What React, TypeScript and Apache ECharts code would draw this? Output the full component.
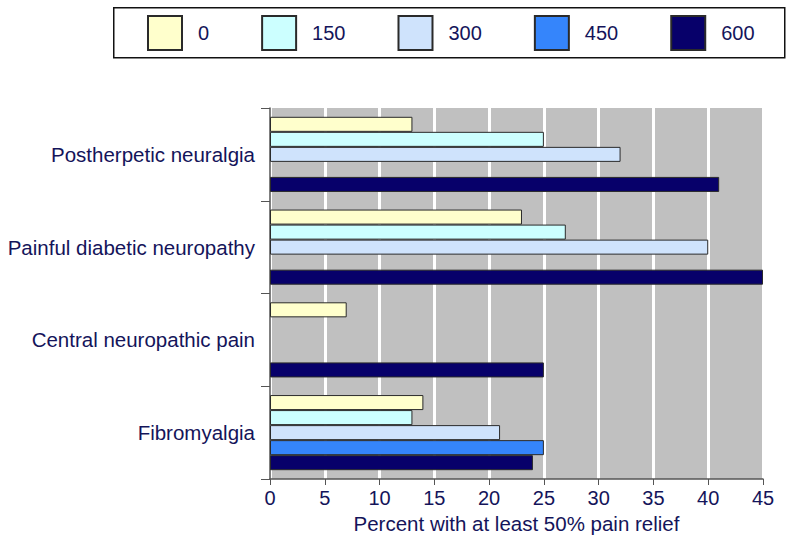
import React, { useEffect, useRef } from "react";
import * as echarts from "echarts";

const categories = [
  "Postherpetic neuralgia",
  "Painful diabetic neuropathy",
  "Central neuropathic pain",
  "Fibromyalgia",
];
const seriesNames = ["0", "150", "300", "450", "600"];
const dose0 = [13, 23, 7, 14];
const dose150 = [25, 27, null, 13];
const dose300 = [32, 40, null, 21];
const dose450 = [null, null, null, 25];
const dose600 = [41, 45, 25, 24];
const xTicks = [0, 45, 5];

const colors = ["#ffffcc", "#ccffff", "#cfe3fc", "#3585fb", "#07006a"];
const textColor = "#14145a";
const font = "Liberation Sans, Arial, Helvetica, sans-serif";

export default function App() {
  const ref = useRef<HTMLDivElement>(null);
  useEffect(() => {
    if (!ref.current) return;
    const chart = echarts.init(ref.current, null, { renderer: "svg" });
    const all = [dose0, dose150, dose300, dose450, dose600];
    chart.setOption({
      animation: false,
      textStyle: { fontFamily: font },
      graphic: [
        {
          type: "rect",
          left: 113,
          top: 7,
          z: -1,
          shape: { width: 671, height: 50 },
          style: { fill: "#ffffff", stroke: "#111111", lineWidth: 1.5 },
        },
      ],
      legend: {
        left: 147,
        top: 15,
        padding: 0,
        itemWidth: 34,
        itemHeight: 34,
        itemGap: 52,
        icon: "rect",
        selectedMode: false,
        textStyle: {
          fontSize: 20,
          color: textColor,
          fontFamily: font,
          padding: [0, 0, 0, 11],
        },
        data: seriesNames,
      },
      grid: {
        left: 270,
        right: 37,
        top: 108,
        bottom: 64,
        show: true,
        backgroundColor: "#c0c0c0",
        borderWidth: 0,
      },
      xAxis: {
        type: "value",
        min: xTicks[0],
        max: xTicks[1],
        interval: xTicks[2],
        name: "Percent with at least 50% pain relief",
        nameLocation: "middle",
        nameGap: 32,
        nameTextStyle: { fontSize: 20.5, color: textColor, fontFamily: font },
        axisLine: { show: true, lineStyle: { color: "#555555", width: 1.5 } },
        axisTick: { show: true, length: 6, lineStyle: { color: "#555555" } },
        axisLabel: { fontSize: 20, color: textColor, margin: 9, fontFamily: font },
        splitLine: { show: true, lineStyle: { color: "#ffffff", width: 3 } },
      },
      yAxis: {
        type: "category",
        data: categories,
        inverse: true,
        axisLine: { show: true, lineStyle: { color: "#555555", width: 1.5 } },
        axisTick: { show: true, length: 9, lineStyle: { color: "#555555" } },
        axisLabel: { fontSize: 20.5, color: textColor, margin: 15, fontFamily: font },
        splitLine: { show: false },
      },
      series: seriesNames.map((name, i) => ({
        name,
        type: "bar",
        data: all[i],
        barGap: "0%",
        barCategoryGap: "19%",
        itemStyle: { color: colors[i], borderColor: "#2a2a2a", borderWidth: 1 },
      })),
    });
    return () => chart.dispose();
  }, []);
  return (
    <div
      ref={ref}
      style={{ position: "absolute", left: 0, top: 0, width: 800, height: 543 }}
    />
  );
}
